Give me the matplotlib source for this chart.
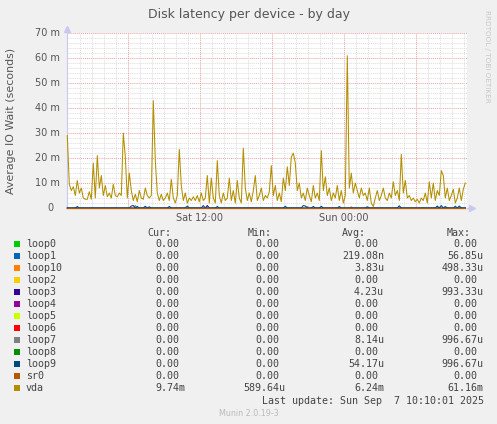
import numpy as np
import matplotlib
matplotlib.use('Agg')
import matplotlib.pyplot as plt
from matplotlib.patches import Rectangle

# munin "diskstats latency" day graph, values in milliseconds
# one sample every 10 min, starting Sat ~00:57
start_h = 0.95
step_h = 1.0 / 6.0

vda = [29, 9.5, 7, 8.5, 5, 11, 6, 8, 4, 3.5,
       3.5, 6.5, 3.5, 18, 4, 21, 8, 13, 5, 9,
       4.5, 6, 4, 9.5, 5, 4.5, 6, 5, 30, 20.5,
       4, 14, 7, 3, 5.5, 2.5, 7, 4, 3.5, 8,
       5, 4, 5, 43, 19, 6, 3, 5.5, 3, 4,
       6, 3, 11.5, 4, 2, 5, 23.5, 9, 3, 6,
       2, 4, 3, 4.5, 3, 5, 2.5, 6, 3, 4,
       13, 2, 12, 4, 2, 19, 5, 2, 6, 3,
       4, 12, 3, 7, 2, 11, 4, 2, 24, 8,
       3, 6, 2.5, 7, 13, 3, 5, 8, 3, 5,
       4, 6.5, 17, 5, 9, 3, 6, 2.5, 12, 7,
       16.5, 9, 20.5, 22, 18, 7, 10, 4, 6, 3,
       8, 5, 2.5, 9, 4, 6, 3, 23, 7, 12.5,
       5, 8, 3, 6, 4, 9, 3, 7, 2, 5,
       61, 8, 14, 6, 10, 7, 4, 8, 5, 6,
       3, 8, 2, 0.6, 4, 7, 3, 5, 8, 4,
       3, 6, 4, 10.5, 5, 7, 3, 21.5, 6, 11,
       4, 5, 3, 4, 2.5, 3.5, 2, 4, 3, 6,
       2, 10.5, 4, 10, 3, 7, 5, 15, 13, 4,
       8, 3, 5, 7.5, 2, 4, 8, 3, 7.5, 10]

# small blips near zero (sample index -> ms)
loop9_idx = [5, 32, 33, 35, 39, 41, 51, 60, 68, 75, 109, 118, 119, 123, 127, 136, 150, 166, 185, 187, 189, 194, 196]
loop9_val = [0.6, 0.8, 1.0, 0.6, 0.7, 0.5, 0.6, 0.8, 1.0, 0.6, 0.7, 1.0, 0.8, 0.6, 0.7, 0.6, 0.5, 0.9, 0.8, 1.0, 0.6, 0.7, 0.8]
loop7_idx = [34, 120]
loop7_val = [1.0, 0.6]
loop3_idx = [70]
loop3_val = [1.0]
loop10_idx = [142]
loop10_val = [0.5]

names = ['loop0', 'loop1', 'loop10', 'loop2', 'loop3', 'loop4', 'loop5',
         'loop6', 'loop7', 'loop8', 'loop9', 'sr0', 'vda']
colors = ['#00CC00', '#0066B3', '#FF8000', '#FFCC00', '#330099', '#990099', '#CCFF00',
          '#FF0000', '#808080', '#008F00', '#00487D', '#B35A00', '#B38F00']
cur = ['0.00'] * 12 + ['9.74m']
mins = ['0.00'] * 12 + ['589.64u']
avgs = ['0.00', '219.08n', '3.83u', '0.00', '4.23u', '0.00', '0.00',
        '0.00', '8.14u', '0.00', '54.17u', '0.00', '6.24m']
maxs = ['0.00', '56.85u', '498.33u', '0.00', '993.33u', '0.00', '0.00',
        '0.00', '996.67u', '0.00', '996.67u', '0.00', '61.16m']

ytick_vals = [0, 10, 20, 30, 40, 50, 60, 70]
ytick_labels = ['0', '10 m', '20 m', '30 m', '40 m', '50 m', '60 m', '70 m']
xtick_vals = [12, 24]
xtick_labels = ['Sat 12:00', 'Sun 00:00']

W, H = 497, 424
def fx(px):
	return px / W
def fy(py):
	return 1 - py / H

n = len(vda)
t = start_h + np.arange(n) * step_h

series = {}
for nm in names:
	series[nm] = np.zeros(n)
series['vda'] = np.array(vda, dtype=float)
for nm, idx, val in [('loop9', loop9_idx, loop9_val), ('loop7', loop7_idx, loop7_val),
                     ('loop3', loop3_idx, loop3_val), ('loop10', loop10_idx, loop10_val)]:
	series[nm][idx] = val

fig = plt.figure(figsize=(W / 100, H / 100), dpi=100, facecolor='#F0F0F0')
ax = fig.add_axes([fx(67.3), fy(208), 400 / W, 174.7 / H])
ax.set_facecolor('white')
ax.set_xlim(start_h, start_h + 400 * step_h / 2)
ax.set_ylim(0, 70)

# grid: red dotted majors, grey dotted minors
axis_col = '#C8C8F0'
for v in np.arange(2, 70, 2):
	col = '#EBA0A0' if v % 10 == 0 else '#DDDDDD'
	ax.axhline(v, color=col, lw=0.7, ls=(0, (1, 1)), zorder=1)
ax.axhline(70, color='#EBA0A0', lw=0.7, ls=(0, (1, 1)), zorder=1)
for h in range(2, 35):
	col = '#EBA0A0' if h % 6 == 0 else '#DDDDDD'
	ax.axvline(h, color=col, lw=0.7, ls=(0, (1, 1)), zorder=1)

for nm, c in zip(names, colors):
	ax.plot(t, series[nm], color=c, lw=0.75, zorder=3, clip_on=False)

for s in ['top', 'right', 'bottom']:
	ax.spines[s].set_visible(False)
ax.spines['left'].set_color(axis_col)
ax.spines['left'].set_linewidth(0.8)
ax.plot([0], [1.025], marker='^', ms=4.5, color=axis_col, transform=ax.transAxes, clip_on=False)
ax.plot([0, 0], [1.0, 1.02], color=axis_col, lw=0.8, transform=ax.transAxes, clip_on=False)
ax.plot([1.0, 1.01], [0, 0], color=axis_col, lw=0.8, transform=ax.transAxes, clip_on=False, zorder=2)
ax.plot([1.012], [0], marker='>', ms=4.5, color=axis_col, transform=ax.transAxes, clip_on=False)

ax.set_yticks([])
ax.set_xticks(xtick_vals)
ax.set_xticklabels(xtick_labels, fontsize=7, color='#555555')
ax.tick_params(axis='x', length=0, pad=3.8)
for v, lab in zip(ytick_vals, ytick_labels):
	off = -5.0 if lab != '0' else -9.8
	ax.annotate(lab, xy=(0, v), xycoords=ax.get_yaxis_transform(), xytext=(off, 0),
	            textcoords='offset points', ha='right', va='center', fontsize=7, color='#555555')

fig.text(fx(248.5), fy(18.3), 'Disk latency per device - by day', ha='center', va='baseline',
         fontsize=9, color='#555555')
fig.text(fx(11), fy(120.5), 'Average IO Wait (seconds)', rotation=90, ha='center', va='center',
         fontsize=7.9, color='#555555')
fig.text(fx(487), fy(56), 'RRDTOOL / TOBI OETIKER', rotation=270, ha='center', va='center',
         fontsize=5.2, color='#C8C8C8')

# legend table
mono = 'DejaVu Sans Mono'
fs = 7.2
cw = 0.602 * fs * 100 / 72
col_end = [185, 285.5, 384, 483.5]
heads = ['Cur:', 'Min:', 'Avg:', 'Max:']
head_end = [171, 272, 366, 470.5]
for hd, xe in zip(heads, head_end):
	fig.text(fx(xe), fy(236), hd, ha='right', va='baseline', family=mono, fontsize=fs, color='#444444')

for k, nm in enumerate(names):
	yb = 247.3 + 12 * k
	fig.patches.append(Rectangle((fx(14), fy(247.3 + 12 * k)), 6 / W, 6 / H,
	                             transform=fig.transFigure, facecolor=colors[k], edgecolor='none'))
	fig.text(fx(26), fy(yb), nm, ha='left', va='baseline', family=mono, fontsize=fs, color='#444444')
	for vals, xe in zip([cur, mins, avgs, maxs], col_end):
		s = vals[k]
		x_end = xe - cw if s[-1].isdigit() else xe
		fig.text(fx(x_end), fy(yb), s, ha='right', va='baseline', family=mono, fontsize=fs, color='#444444')

fig.text(fx(484), fy(403.5), 'Last update: Sun Sep  7 10:10:01 2025', ha='right', va='baseline',
         family=mono, fontsize=fs, color='#444444')
fig.text(fx(249), fy(416), 'Munin 2.0.19-3', ha='center', va='baseline', fontsize=5.8, color='#BBBBBB')

fig.savefig('out.png', dpi=100, facecolor=fig.get_facecolor())
